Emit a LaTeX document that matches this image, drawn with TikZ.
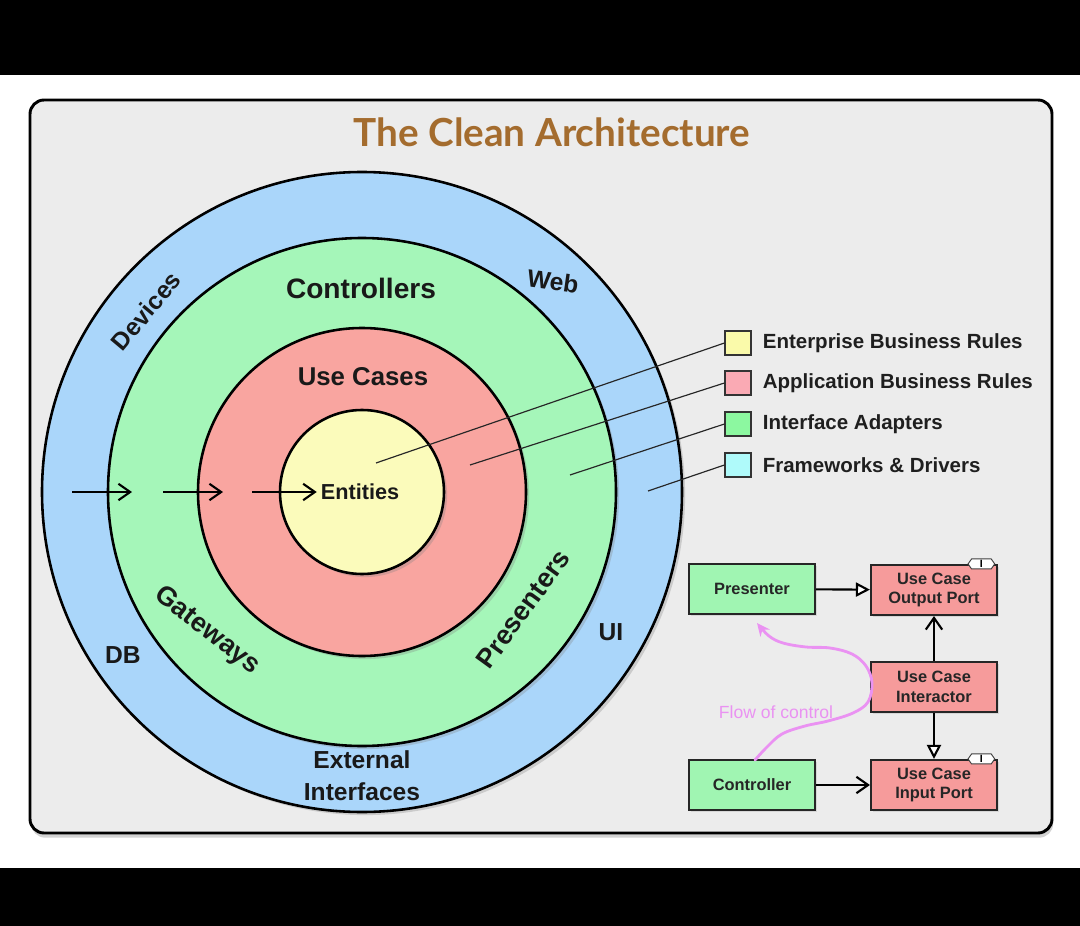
\documentclass[tikz,border=0pt]{standalone}
\usepackage{fontspec}
\setmainfont{Liberation Sans}
\newfontfamily\titlefont{Lato}
\usetikzlibrary{arrows.meta,positioning,shadows,shapes.symbols}
\definecolor{ringblue}{RGB}{170,214,250}
\definecolor{ringgreen}{RGB}{165,246,185}
\definecolor{ringred}{RGB}{249,165,160}
\definecolor{ringyellow}{RGB}{251,251,187}
\definecolor{panelgray}{RGB}{236,236,236}
\definecolor{titlebrown}{RGB}{164,108,46}
\definecolor{lgyellow}{RGB}{250,250,170}
\definecolor{lgpink}{RGB}{250,170,180}
\definecolor{lggreen}{RGB}{140,248,160}
\definecolor{lgcyan}{RGB}{175,250,250}
\definecolor{boxgreen}{RGB}{160,245,178}
\definecolor{boxred}{RGB}{246,155,155}
\definecolor{flowpink}{RGB}{234,146,242}
\begin{document}
\begin{tikzpicture}[x=0.03cm, y=-0.03cm,
    ring/.style={draw=black, line width=2.2pt, drop shadow={opacity=0.3}},
    ringlabel/.style={font=\fontsize{21}{27}\selectfont\bfseries, text=black!90},
    legendbox/.style={draw=black!80, line width=1pt, minimum width=0.78cm, minimum height=0.72cm, inner sep=0pt},
    legendtext/.style={font=\fontsize{17.5}{20}\selectfont\bfseries, text=black!88, inner sep=0pt},
    leader/.style={line width=1pt, black!85},
    flowin/.style={line width=1.8pt, -{Straight Barb[length=10pt, width=14pt]}},
    classbox/.style={draw=black!85, line width=1.8pt, minimum width=3.78cm, minimum height=1.5cm,
        align=center, font=\fontsize{14}{17}\selectfont\bfseries, text=black!85,
        drop shadow={opacity=0.2, shadow xshift=2pt, shadow yshift=-2pt}},
    ifacetag/.style={shape=signal, signal to=west and east, signal pointer angle=110, draw=black!75,
        fill=white, line width=0.8pt, inner sep=0pt, minimum width=0.8cm, minimum height=0.3cm,
        font=\fontsize{9}{9}\selectfont\bfseries},
    uses/.style={line width=1.8pt, -{Straight Barb[length=10pt, width=14pt]}},
    realizes/.style={line width=1.8pt, -{Triangle[open, length=12pt, width=12pt, fill=white]}}
]
    \useasboundingbox (0,0) rectangle (1080,926);
    % 背景与面板
    \fill[black] (0,0) rectangle (1080,926);
    \fill[white] (0,75) rectangle (1080,868);
    \draw[line width=2.5pt, fill=panelgray, rounded corners=12pt,
        drop shadow={opacity=0.35, shadow xshift=1pt, shadow yshift=-4pt}] (30,100) rectangle (1052,833);
    \node[font=\titlefont\bfseries\fontsize{33}{36}\selectfont, text=titlebrown] (title) at (552,132) {The Clean Architecture};
    % 同心圆
    \coordinate (ctr) at (362,492);
    \draw[ring, fill=ringblue] (ctr) circle[radius=320];
    \draw[ring, fill=ringgreen] (ctr) circle[radius=254];
    \draw[ring, fill=ringred] (ctr) circle[radius=164];
    \draw[ring, fill=ringyellow] (ctr) circle[radius=82];
    % 各层标签
    \node[ringlabel, rotate=50] (devices) at (146,311) {Devices};
    \node[ringlabel, rotate=-8] (web) at (553,281) {Web};
    \node[ringlabel, font=\fontsize{24}{27}\selectfont\bfseries] (controllers) at (361,288) {Controllers};
    \node[ringlabel, font=\fontsize{22}{27}\selectfont\bfseries] (usecases) at (363,377) {Use Cases};
    \node[ringlabel, font=\fontsize{18.5}{22}\selectfont\bfseries] (entities) at (360,492) {Entities};
    \node[ringlabel, font=\fontsize{23}{27}\selectfont\bfseries, rotate=-38] (gateways) at (207,631) {Gateways};
    \node[ringlabel, font=\fontsize{23}{27}\selectfont\bfseries, rotate=54] (presenters) at (523,609) {Presenters};
    \node[ringlabel] (db) at (123,655) {DB};
    \node[ringlabel] (ui) at (611,632) {UI};
    \node[ringlabel, align=center] (external) at (362,776) {External\\Interfaces};
    % 依赖方向箭头
    \coordinate (in1) at (72,492);
    \coordinate (in1e) at (132,492);
    \coordinate (in2) at (163,492);
    \coordinate (in2e) at (223,492);
    \coordinate (in3) at (252,492);
    \draw[flowin] (in1) -- (in1e);
    \draw[flowin] (in2) -- (in2e);
    \draw[flowin] (in3) -- (entities.west);
    % 图例
    \node[legendbox, fill=lgyellow] (lgEnt) at (738,343) {};
    \node[legendbox, fill=lgpink] (lgApp) at (738,383) {};
    \node[legendbox, fill=lggreen] (lgAdp) at (738,424) {};
    \node[legendbox, fill=lgcyan] (lgFrw) at (738,465) {};
    \node[legendtext, right=0.33cm of lgEnt] (txEnt) {Enterprise Business Rules};
    \node[legendtext, right=0.33cm of lgApp] (txApp) {Application Business Rules};
    \node[legendtext, right=0.33cm of lgAdp] (txAdp) {Interface Adapters};
    \node[legendtext, right=0.33cm of lgFrw] (txFrw) {Frameworks \& Drivers};
    \coordinate (pEnt) at (376,463);
    \coordinate (pApp) at (470,465);
    \coordinate (pAdp) at (570,475);
    \coordinate (pFrw) at (648,491);
    \draw[leader] (pEnt) -- (lgEnt.west);
    \draw[leader] (pApp) -- (lgApp.west);
    \draw[leader] (pAdp) -- (lgAdp.west);
    \draw[leader] (pFrw) -- (lgFrw.west);
    % 控制流小图
    \node[classbox, fill=boxgreen] (presenter) at (752,589) {Presenter};
    \node[classbox, fill=boxred] (outport) at (934,590) {Use Case\\Output Port};
    \node[classbox, fill=boxred] (interactor) at (934,687) {Use Case\\Interactor};
    \node[classbox, fill=boxgreen] (controller) at (752,785) {Controller};
    \node[classbox, fill=boxred] (inport) at (934,785) {Use Case\\Input Port};
    \node[ifacetag] (outtag) at ([xshift=-0.5cm]outport.north east) {I};
    \node[ifacetag] (intag) at ([xshift=-0.5cm]inport.north east) {I};
    \draw[realizes] (presenter) -- (outport);
    \draw[uses] (interactor) -- (outport);
    \draw[realizes] (interactor) -- (inport);
    \draw[uses] (controller) -- (inport);
    \coordinate (flowend) at (757,623);
    \draw[flowpink, line width=2.4pt, line cap=round, -{Stealth[length=11pt, width=10pt]}]
        plot[smooth, tension=0.6] coordinates {(755,760) (767,747) (782,734) (805,726) (828,721) (853,713) (868,702) (872,683) (866,666) (852,654) (830,648) (806,647) (783,643) (769,636) (flowend)};
    \node[text=flowpink, font=\fontsize{15}{18}\selectfont] (flowlbl) at (776,712) {Flow of control};
\end{tikzpicture}
\end{document}
